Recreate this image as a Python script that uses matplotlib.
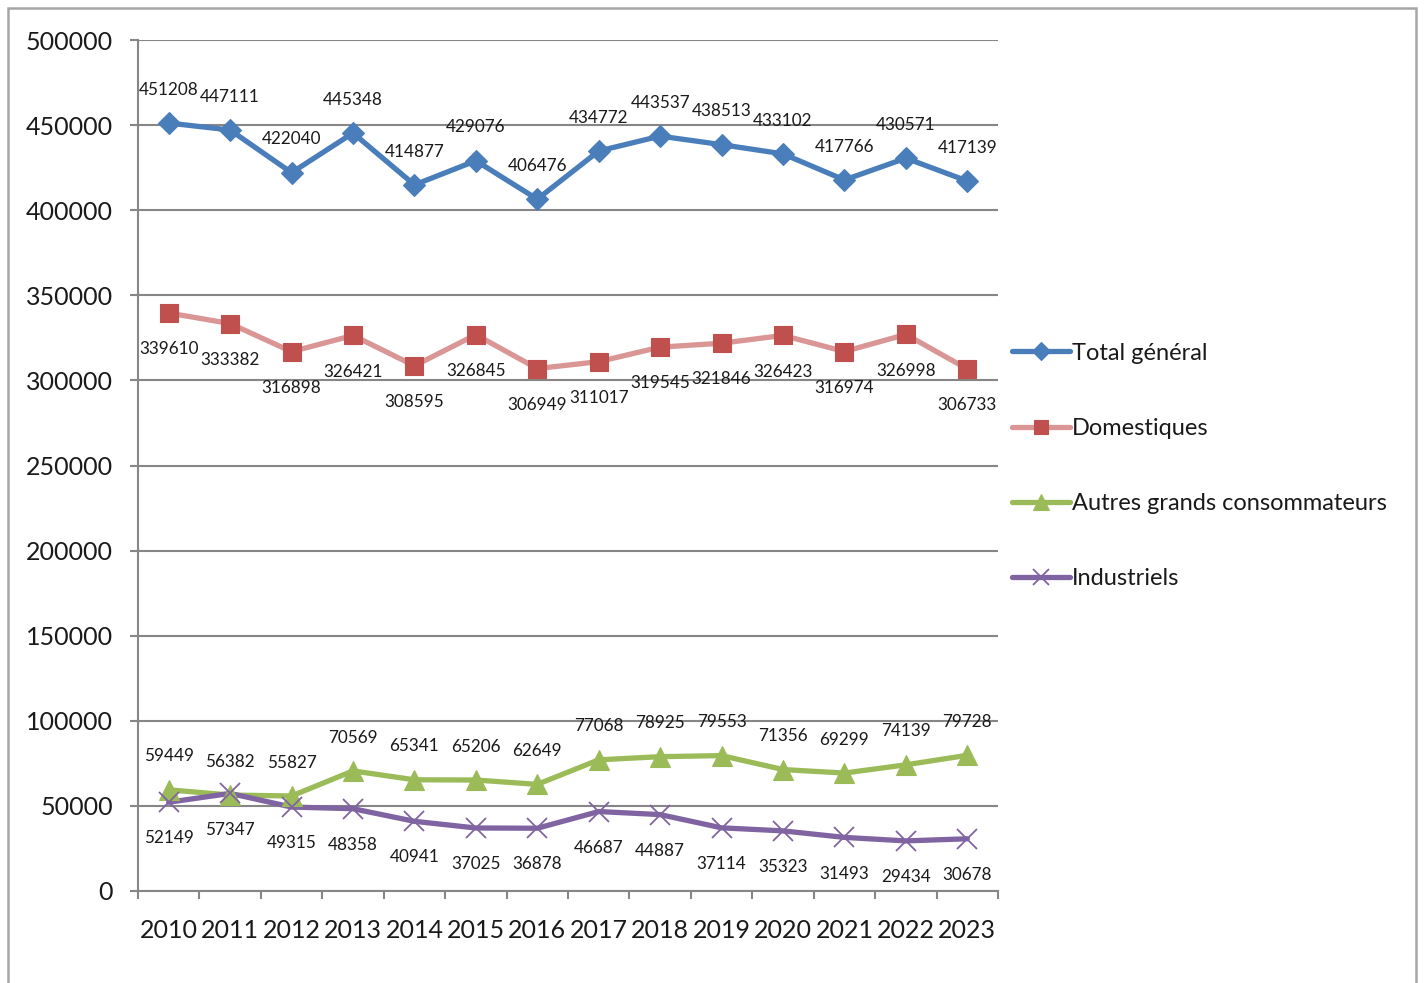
import numpy as np
import matplotlib.pyplot as plt
from matplotlib.patches import Rectangle
from matplotlib.lines import Line2D

plt.rcParams['font.family'] = ['Lato', 'DejaVu Sans']

# Données
annees = ['2010', '2011', '2012', '2013', '2014', '2015', '2016',
          '2017', '2018', '2019', '2020', '2021', '2022', '2023']
total = [451208, 447111, 422040, 445348, 414877, 429076, 406476,
         434772, 443537, 438513, 433102, 417766, 430571, 417139]
domestiques = [339610, 333382, 316898, 326421, 308595, 326845, 306949,
               311017, 319545, 321846, 326423, 316974, 326998, 306733]
autres = [59449, 56382, 55827, 70569, 65341, 65206, 62649,
          77068, 78925, 79553, 71356, 69299, 74139, 79728]
industriels = [52149, 57347, 49315, 48358, 40941, 37025, 36878,
               46687, 44887, 37114, 35323, 31493, 29434, 30678]

W, H = 1424, 983
fig = plt.figure(figsize=(W / 100, H / 100), dpi=100)
ax = fig.add_axes([138 / W, 1 - 891 / H, (998 - 138) / W, (891 - 40) / H])

x = np.arange(len(annees))
grid_col = '#868686'

# (valeurs, nom, couleur ligne, marqueur, couleur marqueur, taille, décalage étiquette)
series = [
    (total, 'Total général', '#4A7EBB', 'D', '#4A7EBB', 11, 24),
    (domestiques, 'Domestiques', '#D99694', 's', '#C0504D', 13, -26),
    (autres, 'Autres grands consommateurs', '#9BBB59', '^', '#9BBB59', 14, 24),
    (industriels, 'Industriels', '#8064A2', 'x', '#8064A2', 14, -26),
]

handles = []
for vals, name, lc, mk, mc, ms, off in series:
    ax.plot(x, vals, color=lc, lw=3.8, zorder=3, solid_capstyle='round',
            solid_joinstyle='round')
    mew = 1.3 if mk == 'x' else 0.8
    ax.plot(x, vals, ls='none', marker=mk, ms=ms, color=mc, mec=mc, mew=mew, zorder=4)
    for xi, v in zip(x, vals):
        ax.annotate(str(v), (xi, v), xytext=(0, off), textcoords='offset points',
                    ha='center', va='center', fontsize=12.3, color='#1a1a1a')
    handles.append(Line2D([], [], color=lc, lw=3.8, marker=mk, ms=ms * 0.8,
                          mfc=mc, mec=mc, mew=mew, solid_capstyle='round'))

ax.set_xlim(-0.5, len(annees) - 0.5)
ax.set_ylim(0, 500000)
ax.set_yticks(np.arange(0, 500001, 50000))
ax.set_xticks(x)
ax.set_xticklabels(annees)
ax.set_xticks(np.arange(-0.5, len(annees), 1), minor=True)

ax.yaxis.grid(True, color=grid_col, lw=1.5)
ax.set_axisbelow(True)
for s in ['top', 'right']:
    ax.spines[s].set_visible(False)
for s in ['left', 'bottom']:
    ax.spines[s].set_color(grid_col)
    ax.spines[s].set_linewidth(1.5)

ax.tick_params(axis='y', length=6, width=1.5, color=grid_col, labelsize=18, pad=12,
               labelcolor='#1a1a1a')
ax.tick_params(axis='x', which='major', length=0, labelsize=18, pad=20,
               labelcolor='#1a1a1a')
ax.tick_params(axis='x', which='minor', length=6, width=1.5, color=grid_col)

leg = ax.legend(handles, [s[1] for s in series], loc='center left',
                bbox_to_anchor=(1.005, (891 - 466) / 851),
                frameon=False, fontsize=17, handlelength=2.45, handletextpad=0.1,
                labelspacing=2.3, borderaxespad=0)
for t in leg.get_texts():
    t.set_color('#1a1a1a')

# cadre du graphique
fig.patches.append(Rectangle((8 / W, -0.05), (1416 - 8) / W, 1 - 8 / H + 0.05,
                             transform=fig.transFigure, fill=False,
                             ec='#A6A6A6', lw=1.8))

fig.savefig('out.png', dpi=100)
